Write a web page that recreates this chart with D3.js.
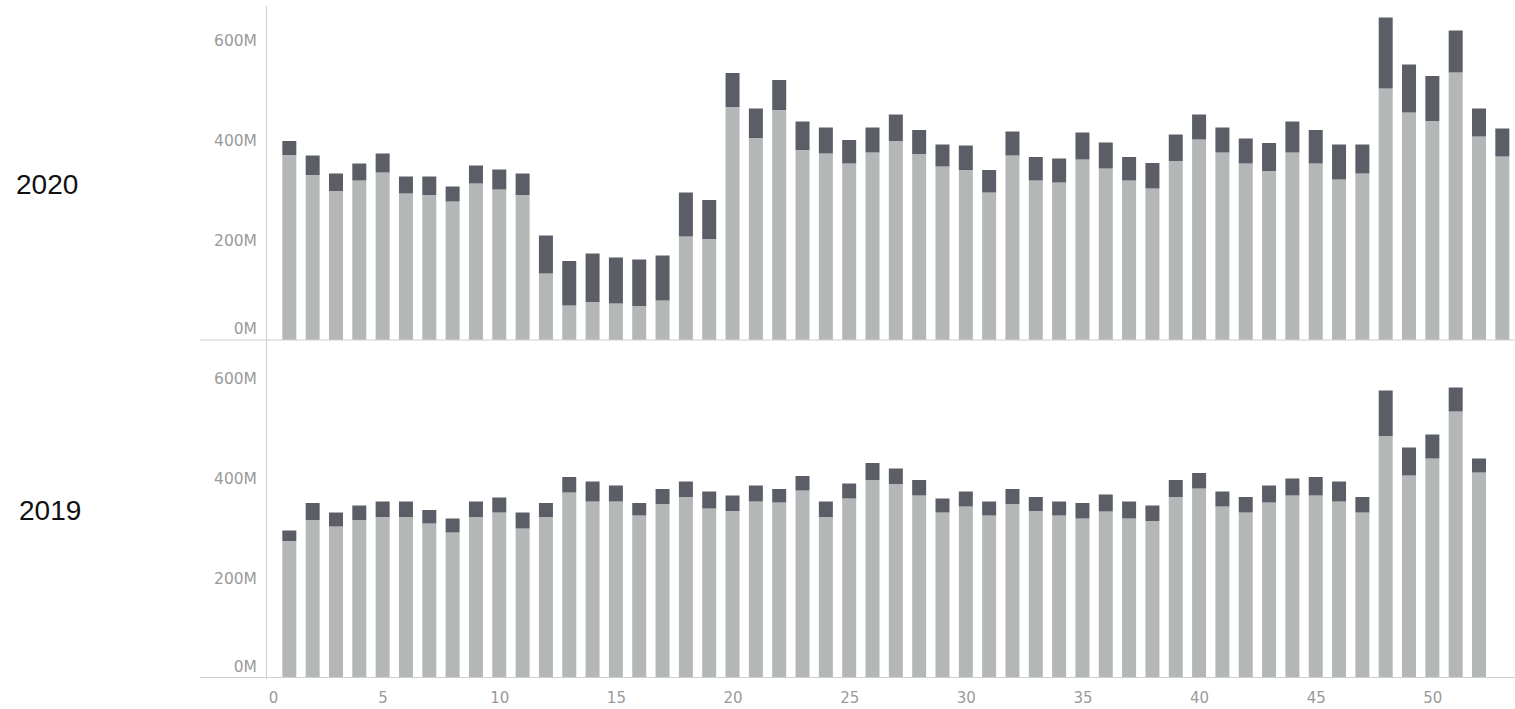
<!DOCTYPE html>
<html>
<head>
<meta charset="utf-8">
<script src="https://cdn.jsdelivr.net/npm/d3@7/dist/d3.min.js"></script>
<style>
  html, body { margin: 0; padding: 0; background: #fff; }
  svg { display: block; }
</style>
</head>
<body>
<svg id="chart" width="1515" height="709"></svg>
<script>
// ---------- DATA ----------
const weeks2020 = [1,2,3,4,5,6,7,8,9,10,11,12,13,14,15,16,17,18,19,20,21,22,23,24,25,26,27,28,29,30,31,32,33,34,35,36,37,38,39,40,41,42,43,44,45,46,47,48,49,50,51,52,53];
const weeks2019 = [1,2,3,4,5,6,7,8,9,10,11,12,13,14,15,16,17,18,19,20,21,22,23,24,25,26,27,28,29,30,31,32,33,34,35,36,37,38,39,40,41,42,43,44,45,46,47,48,49,50,51,52];

// lower (light) segment, in millions
const base2020 = [370,330,298,319,335,293,290,277,313,301,290,133,69,76,73,68,79,207,202,466,404,460,380,373,353,375,398,372,347,340,295,369,319,315,361,343,319,303,358,401,375,353,338,375,353,321,333,503,455,438,535,407,367];
// upper (dark) segment, in millions
const extra2020 = [28,39,35,34,38,34,37,30,36,40,43,76,89,97,92,93,90,88,78,68,59,60,57,52,47,50,53,48,44,49,45,48,47,48,54,52,47,51,53,50,50,50,56,62,67,70,58,142,96,90,84,56,56];

const base2019 = [273,315,302,315,321,321,308,290,321,330,298,321,370,352,352,324,347,361,338,333,352,350,374,321,358,395,387,364,330,342,324,347,333,324,318,332,318,313,361,378,342,330,350,364,364,352,330,483,404,438,532,410];
const extra2019 = [21,34,28,29,31,31,27,28,31,30,32,28,31,40,32,25,30,31,34,31,32,27,29,31,30,34,31,31,28,30,28,30,28,28,31,34,34,31,34,31,30,31,34,34,37,40,31,91,56,48,48,28];

const years = ["2020", "2019"];
const yTicks = [0, 200, 400, 600];
const xTicks = [0, 5, 10, 15, 20, 25, 30, 35, 40, 45, 50];

// ---------- LAYOUT ----------
const svg = d3.select("#chart");
const colors = { base: "#b4b7b8", extra: "#5b5e66" };
const axisColor = "#cfcfcf";
const labelColor = "#9a9a9a";

const x = d3.scaleLinear().domain([0, 53.5]).range([266, 1514]);
const barW = 14;

const panels = [
  { year: years[0], weeks: weeks2020, base: base2020, extra: extra2020, top: 6, bottom: 340, labelX: 16, labelY: 194 },
  { year: years[1], weeks: weeks2019, base: base2019, extra: extra2019, top: 343.5, bottom: 677.5, labelX: 19, labelY: 520 }
];

panels.forEach(p => {
  const y = d3.scaleLinear().domain([0, 668]).range([p.bottom, p.top]);
  const rows = p.weeks.map((w, i) => ({ week: w, base: p.base[i], extra: p.extra[i] }));
  const series = d3.stack().keys(["base", "extra"])(rows);

  const g = svg.append("g");
  g.selectAll("g.series")
    .data(series)
    .join("g")
    .attr("class", "series")
    .attr("fill", d => colors[d.key])
    .selectAll("rect")
    .data(d => d)
    .join("rect")
    .attr("x", d => x(d.data.week) - barW / 2)
    .attr("width", barW)
    .attr("y", d => y(d[1]))
    .attr("height", d => y(d[0]) - y(d[1]));

  // horizontal baseline
  g.append("line")
    .attr("x1", 200).attr("x2", 1515)
    .attr("y1", p.bottom).attr("y2", p.bottom)
    .attr("stroke", axisColor).attr("stroke-width", 1);

  // y axis labels
  const yAxis = d3.axisLeft(y).tickValues(yTicks).tickSize(0).tickPadding(0)
    .tickFormat(d => d + "M");
  const ya = svg.append("g").attr("transform", "translate(257,0)").call(yAxis);
  ya.select(".domain").remove();
  ya.selectAll("text")
    .attr("fill", labelColor)
    .style("font-family", "'DejaVu Sans', sans-serif")
    .style("font-size", "15.5px")
    .attr("dy", (d) => d === 0 ? "-0.42em" : "0.36em");

  // row header
  svg.append("text")
    .attr("x", p.labelX).attr("y", p.labelY)
    .attr("fill", "#111")
    .style("font-family", "'Liberation Sans', Arial, sans-serif")
    .style("font-size", "28px")
    .text(p.year);
});

// vertical axis line
svg.append("line")
  .attr("x1", 266.5).attr("x2", 266.5)
  .attr("y1", 6).attr("y2", 679)
  .attr("stroke", axisColor).attr("stroke-width", 1);

// x axis labels
const xAxis = d3.axisBottom(x).tickValues(xTicks).tickSize(0).tickPadding(0)
  .tickFormat(d => String(d));
const xa = svg.append("g").attr("transform", "translate(0,698)").call(xAxis);
xa.select(".domain").remove();
xa.selectAll("text")
  .attr("fill", labelColor)
  .style("font-family", "'DejaVu Sans', sans-serif")
  .style("font-size", "15px")
  .attr("dy", "0.36em")
  .attr("dx", d => d === 0 ? 7 : 0);
</script>
</body>
</html>
